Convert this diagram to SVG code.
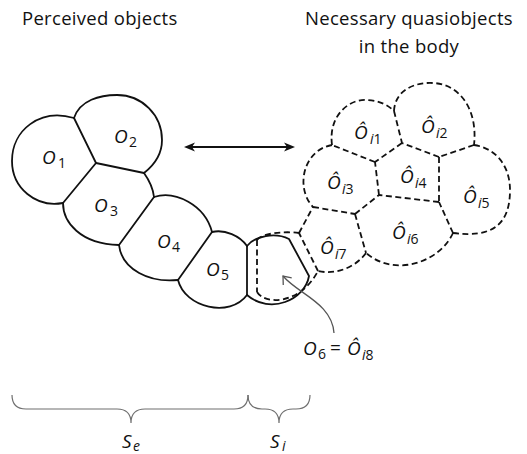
<svg xmlns="http://www.w3.org/2000/svg" width="527" height="454" viewBox="0 0 527 454">
<style>
.s{fill:none;stroke:#111;stroke-width:1.8;stroke-linejoin:round;stroke-linecap:round}
.d{fill:none;stroke:#111;stroke-width:1.8;stroke-dasharray:6 3.5;stroke-linejoin:round}
.t{font-family:"Open Sans","Noto Sans",sans-serif;fill:#111}
.h{font-size:18.5px;letter-spacing:0.3px}
.o{font-size:19px;font-style:italic}
.n{font-size:14px;font-style:normal}
.ni{font-size:14px;font-style:italic}
.br{fill:none;stroke:#6f6f6f;stroke-width:1.2}
</style>
<defs>
<marker id="ah" markerUnits="userSpaceOnUse" viewBox="0 0 12 10" markerWidth="12" markerHeight="10" refX="8" refY="5" orient="auto-start-reverse">
<path d="M0,0.5 L11,5 L0,9.5 L3,5 Z" fill="#111"/>
</marker>
<marker id="ch" markerUnits="userSpaceOnUse" viewBox="-10 -10 20 20" markerWidth="20" markerHeight="20" refX="0" refY="0" orient="auto">
<path d="M-7,-5.5 L0,0 L-7,5.5" fill="none" stroke="#555" stroke-width="1.3"/>
</marker>
</defs>

<text class="t h" x="22" y="25">Perceived objects</text>
<text class="t h" x="409" y="25" text-anchor="middle">Necessary quasiobjects</text>
<text class="t h" x="409" y="53" text-anchor="middle">in the body</text>

<g id="O1">
<path class="s" d="M74,118 C40,108 12,130 12,161 C12,188 36,208 63,203"/>
<path class="s" d="M74,118 L96,163 M96,163 L63,203"/>
<text class="t o" x="42" y="164">O<tspan class="n" x="58" y="168">1</tspan></text>
</g>
<g id="O2">
<path class="s" d="M74,118 C80,100 100,95 117,95 C142,95 162,115 162,140 C162,155 153,166 144,173"/>
<path class="s" d="M96,163 L144,173"/>
<text class="t o" x="114" y="143">O<tspan class="n" x="129" y="147">2</tspan></text>
</g>
<g id="O3">
<path class="s" d="M63,203 C63,222 80,244 119,245"/>
<path class="s" d="M144,173 C149,180 153,188 154,197"/>
<path class="s" d="M154,197 L119,245"/>
<text class="t o" x="94" y="212">O<tspan class="n" x="110" y="216">3</tspan></text>
</g>
<g id="O4">
<path class="s" d="M154,197 C175,190 205,205 212,232"/>
<path class="s" d="M119,245 C122,270 150,283 178,280"/>
<path class="s" d="M212,232 L178,280"/>
<text class="t o" x="157" y="248">O<tspan class="n" x="172" y="252">4</tspan></text>
</g>
<g id="O5">
<path class="s" d="M212,232 C225,229 240,236 247,246"/>
<path class="s" d="M178,280 C185,308 230,318 247,295"/>
<path class="s" d="M247,246 L247,295"/>
<text class="t o" x="206" y="276">O<tspan class="n" x="221" y="280">5</tspan></text>
</g>
<g id="O6">
<path class="s" d="M247,246 C255,236 275,232 289,239 L309,276 C305,300 270,315 247,295"/>
</g>

<g id="Oi1">
<path class="d" d="M332,145 C328,115 350,98 368,100 C380,101 388,105 394,111"/>
<path class="d" d="M394,111 L402,143"/>
<path class="d" d="M402,143 L375,162"/>
<path class="d" d="M375,162 L332,145"/>
<text class="t o" x="354" y="139">Ô<tspan class="ni" x="370" y="144">i</tspan><tspan class="n">1</tspan></text>
</g>
<g id="Oi2">
<path class="d" d="M394,111 C395,90 415,82 433,83 C460,84 478,110 474,145"/>
<path class="d" d="M474,145 L439,157"/>
<path class="d" d="M439,157 L402,143"/>
<text class="t o" x="421" y="133">Ô<tspan class="ni" x="436" y="138">i</tspan><tspan class="n">2</tspan></text>
</g>
<g id="Oi3">
<path class="d" d="M332,145 C303,150 295,188 313,207"/>
<path class="d" d="M313,207 L355,214"/>
<path class="d" d="M355,214 L379,195"/>
<path class="d" d="M379,195 L375,162"/>
<text class="t o" x="327" y="189">Ô<tspan class="ni" x="342" y="194">i</tspan><tspan class="n">3</tspan></text>
</g>
<g id="Oi4">
<path class="d" d="M439,157 L439,202"/>
<path class="d" d="M439,202 L379,195"/>
<text class="t o" x="400" y="183">Ô<tspan class="ni" x="415" y="188">i</tspan><tspan class="n">4</tspan></text>
</g>
<g id="Oi5">
<path class="d" d="M474,145 C495,148 510,165 510,190 C510,225 492,238 453,233"/>
<path class="d" d="M453,233 L439,202"/>
<text class="t o" x="463" y="203">Ô<tspan class="ni" x="478" y="208">i</tspan><tspan class="n">5</tspan></text>
</g>
<g id="Oi6">
<path class="d" d="M453,233 C440,262 395,278 366,253"/>
<path class="d" d="M355,214 L366,253"/>
<text class="t o" x="392" y="239">Ô<tspan class="ni" x="407" y="244">i</tspan><tspan class="n">6</tspan></text>
</g>
<g id="Oi7">
<path class="d" d="M366,253 C355,268 335,275 318,271"/>
<path class="d" d="M299,233 L313,207"/>
<path class="d" d="M318,271 L299,233"/>
<text class="t o" x="320" y="254">Ô<tspan class="ni" x="335" y="259">i</tspan><tspan class="n">7</tspan></text>
</g>
<g id="Oi8">
<path class="d" d="M257,240 C262,233 285,231 299,233"/>
<path class="d" d="M257,240 L257,292"/>
<path class="d" d="M257,292 C265,305 300,305 318,271"/>
</g>

<g id="label-O6">
<text class="t o" x="303" y="355">O<tspan class="n" x="318" y="359">6</tspan><tspan font-style="normal" x="330" y="354">=</tspan><tspan x="347" y="355">Ô</tspan><tspan class="ni" x="362" y="360">i</tspan><tspan class="n">8</tspan></text>
</g>

<g id="connectors">
<line x1="187" y1="147" x2="292" y2="147" stroke="#111" stroke-width="1.8" marker-start="url(#ah)" marker-end="url(#ah)"/>
<path d="M334,333 C332,303 298,294 283,276" fill="none" stroke="#555" stroke-width="1.3" marker-end="url(#ch)"/>
</g>

<g id="braces">
<path class="br" d="M12,395 Q12,409 26,409 L117,409 Q131,409 131,423 Q131,409 145,409 L234,409 Q248,409 248,395"/>
<path class="br" d="M248,395 Q248,409 262,409 L265,409 Q279,409 279,423 Q279,409 293,409 L296,409 Q310,409 310,395"/>
<text class="t o" x="122" y="448">S<tspan class="ni" x="133" y="451">e</tspan></text>
<text class="t o" x="270" y="448">S<tspan class="ni" x="282" y="451">i</tspan></text>
</g>
</svg>
